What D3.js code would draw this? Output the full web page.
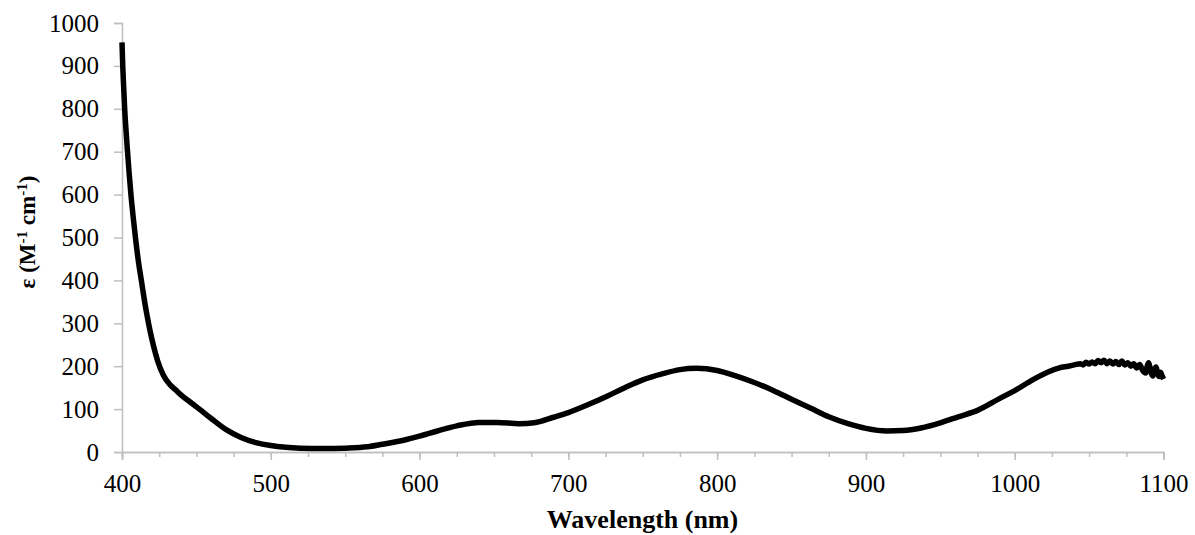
<!DOCTYPE html>
<html><head><meta charset="utf-8">
<script src="https://cdn.jsdelivr.net/npm/d3@7"></script>
</head>
<body style="margin:0">
<svg id="c" width="1195" height="535" font-family="Liberation Serif"></svg>
<script>
const wavelength = [400,400.5,401,401.8,402.7,403.6,404.8,406,407.6,409.2,411,413,415,417,419,421,424,428,432,436,440,446,452,460,470,480,490,500,510,520,535,550,565,575,590,600,612,625,640,652,667,677,690,700,713,726,738,750,763,775,786,800,812,825,838,850,863,875,888,900,914,925,937,950,962,975,990,1000,1012,1022,1030,1036,1040,1044,1046,1048,1050,1052,1054,1056,1058,1060,1062,1064,1066,1068,1070,1072,1074,1076,1078,1080,1082,1084,1086,1088,1089,1090,1091,1092,1093,1094,1095,1096,1097,1098,1099,1100];
const epsilon = [955,900,860,800,750,705,650,600,545,495,445,400,355,315,280,250,212,178,158,145,132,116,100,78,52,34,22,15,11,9,8,9,12,18,28,37,49,61,69,69,66,68,81,92,110,130,150,168,182,192,195,190,178,162,143,123,102,82,66,55,49,50,56,68,82,97,125,143,168,186,196,200,203,206,203,209,205,210,206,213,208,214,206,212,205,211,204,212,203,208,200,206,196,204,190,184,200,208,196,182,177,192,198,184,176,186,178,170];
const xTicks = [400,500,600,700,800,900,1000,1100];
const xMinorTicks = d3.range(400,1101,25);
const yTicks = [0,100,200,300,400,500,600,700,800,900,1000];

const FONT = "'Liberation Serif'";
const svg = d3.select("#c");
const x = d3.scaleLinear().domain([400,1100]).range([122,1163.5]);
const y = d3.scaleLinear().domain([0,1000]).range([452,23]);
const axisColor = "#bfbfbf";

// x axis: minor ticks
const gxm = svg.append("g").attr("transform","translate(0,452)")
  .call(d3.axisBottom(x).tickValues(xMinorTicks).tickSize(5).tickFormat(""));
gxm.selectAll("text").remove();
// x axis: major ticks + labels
const gx = svg.append("g").attr("transform","translate(0,452)")
  .call(d3.axisBottom(x).tickValues(xTicks).tickSize(8).tickPadding(14).tickFormat(d3.format("d")));
[gxm, gx].forEach(g => {
  g.selectAll("path.domain").attr("stroke",axisColor).attr("stroke-width",1.5);
  g.selectAll(".tick line").attr("stroke",axisColor).attr("stroke-width",1.5);
});
gx.attr("font-family",null).attr("font-size",null);
gx.selectAll("text").attr("fill","#000").attr("font-size",25).style("font-family",FONT);

// y axis
const gy = svg.append("g").attr("transform","translate(122,0)")
  .call(d3.axisLeft(y).tickValues(yTicks).tickSize(8).tickPadding(15).tickFormat(d3.format("d")));
gy.selectAll("path.domain").attr("stroke",axisColor).attr("stroke-width",1.5);
gy.selectAll(".tick line").attr("stroke",axisColor).attr("stroke-width",1.5);
gy.attr("font-family",null).attr("font-size",null);
gy.selectAll("text").attr("fill","#000").attr("font-size",25).style("font-family",FONT);

// line
const line = d3.line().x((d,i)=>x(wavelength[i])).y(d=>y(d)).curve(d3.curveMonotoneX);
svg.append("path").datum(epsilon).attr("d",line)
  .attr("fill","none").attr("stroke","#000").attr("stroke-width",5.5)
  .attr("stroke-linejoin","round").attr("stroke-linecap","butt");

// titles
svg.append("text").attr("x",642.5).attr("y",528).attr("text-anchor","middle")
  .attr("font-size",26).attr("font-weight","bold").style("font-family",FONT).text("Wavelength (nm)");
const yt = svg.append("text").attr("transform","translate(35,232) rotate(-90)")
  .attr("text-anchor","middle").attr("font-size",23).attr("font-weight","bold").style("font-family",FONT);
yt.append("tspan").text("ε (M");
yt.append("tspan").attr("font-size",15).attr("dy",-8).text("-1");
yt.append("tspan").attr("dy",8).text(" cm");
yt.append("tspan").attr("font-size",15).attr("dy",-8).text("-1");
yt.append("tspan").attr("dy",8).text(")");
</script>
</body></html>
